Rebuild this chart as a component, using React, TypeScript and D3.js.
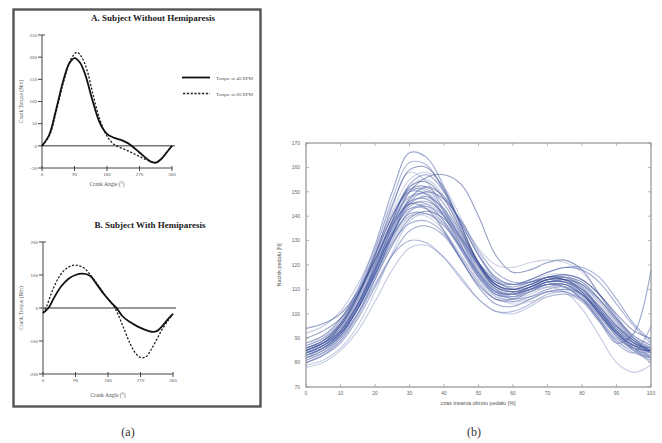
import React from "react";
import * as d3 from "d3";

// ---------- Panel (a) data ----------
const angleTicks = [0, 90, 180, 270, 360];
const aTicks = [-50, 0, 50, 100, 150, 200, 250];
const bTicks = [-200, -100, 0, 100, 200];

const aSolid: [number, number][] = [
  [0, 0], [20, 25], [40, 85], [60, 150], [75, 185], [90, 198], [105, 188], [120, 160],
  [140, 102], [160, 52], [180, 27], [200, 18], [220, 13], [240, 5], [260, -8], [280, -22],
  [300, -35], [315, -38], [330, -30], [345, -15], [360, 0],
];
const aDashed: [number, number][] = [
  [0, 0], [20, 22], [40, 80], [60, 145], [80, 195], [97, 211], [110, 200], [125, 170],
  [140, 120], [160, 60], [180, 22], [200, 3], [220, -5], [240, -12], [260, -20], [280, -28],
  [300, -35], [315, -38], [330, -30], [345, -15], [360, 0],
];
const bSolid: [number, number][] = [
  [0, -15], [15, 0], [30, 30], [50, 65], [70, 88], [90, 100], [110, 104], [130, 98],
  [150, 70], [170, 40], [190, 15], [205, -2], [220, -25], [240, -42], [260, -55], [280, -65],
  [300, -72], [315, -70], [330, -55], [345, -35], [360, -18],
];
const bDashed: [number, number][] = [
  [0, -15], [10, 5], [25, 50], [45, 95], [65, 120], [85, 130], [100, 128], [115, 120],
  [135, 95], [155, 65], [175, 35], [195, 8], [210, -25], [225, -65], [240, -105], [255, -135],
  [270, -150], [285, -148], [300, -125], [315, -95], [330, -65], [345, -40], [360, -18],
];
const legendLabels = ["Torque at 40 RPM", "Torque at 60 RPM"];

// ---------- Panel (b) data ----------
const pctX = [0, 5, 10, 15, 20, 25, 30, 35, 40, 45, 50, 55, 60, 65, 70, 75, 80, 85, 90, 95, 100];
const bXTicks = [0, 10, 20, 30, 40, 50, 60, 70, 80, 90, 100];
const bYTicks = [70, 80, 90, 100, 110, 120, 130, 140, 150, 160, 170];
const forceCurves: number[][] = [
  [88, 91, 98, 110, 128, 150, 166, 164, 152, 136, 120, 110, 108, 110, 112, 111, 106, 98, 90, 86, 85],
  [86, 89, 96, 108, 126, 147, 162, 161, 150, 135, 121, 112, 110, 112, 114, 113, 108, 100, 92, 87, 85],
  [92, 95, 101, 112, 127, 145, 158, 154, 142, 128, 115, 108, 108, 111, 114, 114, 110, 102, 94, 88, 86],
  [84, 87, 93, 103, 118, 136, 150, 156, 157, 153, 140, 124, 117, 118, 121, 122, 118, 108, 98, 90, 86],
  [83, 86, 92, 104, 120, 139, 152, 155, 148, 134, 120, 111, 110, 113, 116, 116, 112, 104, 95, 88, 84],
  [85, 88, 95, 107, 123, 140, 150, 149, 140, 127, 116, 109, 108, 110, 113, 113, 109, 101, 93, 87, 84],
  [82, 85, 91, 102, 116, 132, 145, 148, 143, 132, 120, 112, 110, 112, 115, 115, 111, 102, 93, 86, 82],
  [87, 90, 96, 107, 122, 137, 145, 145, 138, 126, 115, 108, 107, 110, 113, 113, 109, 101, 93, 88, 86],
  [84, 87, 93, 104, 118, 133, 143, 144, 138, 127, 116, 109, 108, 111, 114, 114, 111, 103, 95, 89, 86],
  [81, 84, 90, 100, 114, 128, 139, 142, 139, 130, 119, 111, 109, 111, 114, 115, 113, 106, 97, 89, 84],
  [86, 89, 95, 105, 119, 132, 140, 140, 134, 124, 114, 107, 106, 108, 111, 112, 109, 103, 95, 89, 87],
  [83, 86, 92, 102, 116, 129, 137, 138, 133, 123, 113, 106, 105, 107, 110, 111, 108, 101, 93, 87, 84],
  [80, 83, 88, 98, 111, 124, 134, 136, 132, 122, 111, 104, 103, 106, 109, 110, 108, 101, 92, 85, 81],
  [84, 86, 91, 100, 112, 124, 130, 129, 123, 114, 106, 101, 101, 104, 108, 109, 106, 99, 91, 85, 82],
  [78, 80, 85, 93, 105, 118, 127, 128, 123, 115, 106, 101, 100, 103, 107, 108, 106, 100, 92, 85, 80],
  [94, 96, 100, 109, 122, 136, 145, 143, 134, 122, 112, 106, 106, 109, 112, 112, 108, 100, 92, 87, 86],
  [85, 88, 94, 105, 120, 136, 147, 150, 147, 138, 127, 120, 119, 121, 122, 121, 117, 108, 98, 90, 86],
  [86, 89, 95, 106, 121, 137, 148, 149, 142, 131, 120, 113, 112, 114, 117, 119, 118, 113, 104, 95, 88],
  [84, 87, 93, 104, 119, 135, 146, 147, 140, 128, 116, 109, 108, 110, 112, 111, 106, 97, 88, 92, 118],
  [83, 86, 92, 103, 118, 133, 143, 143, 137, 126, 115, 108, 107, 109, 112, 112, 107, 98, 88, 84, 95],
  [82, 84, 89, 99, 114, 130, 142, 145, 140, 129, 117, 109, 107, 109, 111, 109, 102, 91, 80, 76, 79],
  [86, 89, 96, 108, 124, 140, 151, 152, 145, 133, 121, 113, 111, 113, 115, 114, 109, 100, 91, 86, 85],
  [88, 91, 97, 109, 125, 142, 155, 158, 152, 139, 125, 115, 112, 113, 115, 115, 111, 103, 95, 90, 88],
  [83, 86, 92, 102, 117, 133, 144, 146, 141, 131, 120, 112, 109, 110, 112, 112, 108, 100, 92, 86, 83],
  [85, 88, 94, 104, 118, 132, 141, 141, 136, 127, 117, 110, 108, 110, 113, 114, 112, 106, 98, 91, 87],
  [80, 83, 89, 100, 115, 131, 142, 144, 140, 131, 121, 114, 112, 113, 115, 115, 112, 105, 96, 88, 82],
  [87, 90, 97, 109, 125, 141, 151, 150, 142, 130, 118, 110, 108, 110, 112, 111, 106, 97, 89, 85, 84],
  [85, 88, 95, 107, 124, 144, 159, 160, 151, 136, 121, 111, 109, 111, 114, 114, 110, 102, 94, 88, 85],
  [84, 87, 94, 106, 122, 138, 148, 148, 141, 130, 118, 110, 108, 109, 111, 111, 107, 99, 91, 86, 84],
  [82, 85, 91, 102, 117, 134, 146, 150, 147, 138, 126, 117, 113, 113, 115, 116, 114, 108, 99, 90, 84],
  [84, 87, 92, 102, 116, 132, 147, 152, 148, 137, 124, 114, 110, 111, 113, 113, 110, 103, 95, 89, 85],
  [86, 88, 93, 103, 118, 136, 150, 151, 143, 130, 117, 109, 106, 107, 109, 109, 105, 97, 89, 84, 82],
  [79, 81, 86, 95, 109, 125, 138, 141, 137, 127, 116, 108, 105, 106, 109, 110, 108, 102, 94, 86, 80],
  [90, 93, 98, 108, 122, 138, 152, 154, 147, 134, 121, 112, 110, 112, 115, 116, 114, 108, 100, 93, 90],
  [83, 85, 90, 100, 114, 129, 140, 141, 136, 126, 115, 107, 104, 105, 107, 108, 105, 99, 91, 85, 83],
  [85, 88, 93, 104, 120, 138, 153, 157, 150, 137, 124, 115, 112, 114, 117, 119, 119, 115, 106, 96, 89],
];

const serif = "'Liberation Serif', 'DejaVu Serif', serif";
const sans = "'Liberation Sans', Arial, sans-serif";

function TorquePanel(props: {
  x: d3.ScaleLinear<number, number>;
  y: d3.ScaleLinear<number, number>;
  ticks: number[];
  solid: [number, number][];
  dashed: [number, number][];
  title: string;
  titleX: number;
  titleY: number;
  yLabel: string;
  xLabelY: number;
}) {
  const { x, y, ticks, solid, dashed } = props;
  const [y0, y1] = y.domain();
  const line = d3
    .line<[number, number]>()
    .x((d) => x(d[0]))
    .y((d) => y(d[1]))
    .curve(d3.curveCatmullRom.alpha(0.5));
  const axX = x(0);
  const bottom = y(y0);
  const top = y(y1);
  return (
    <g>
      <text x={props.titleX} y={props.titleY} textAnchor="middle" fontFamily={serif} fontWeight="bold" fontSize={9} fill="#222">
        {props.title}
      </text>
      {/* y axis */}
      <line x1={axX} x2={axX} y1={top} y2={bottom} stroke="#444" strokeWidth={1} />
      {ticks.map((t) => (
        <g key={t}>
          <line x1={axX - 4} x2={axX} y1={y(t)} y2={y(t)} stroke="#444" strokeWidth={1} />
          <text x={axX - 5} y={y(t) + 1.8} textAnchor="end" fontFamily={serif} fontSize={5} fill="#555">
            {t}
          </text>
        </g>
      ))}
      <line x1={axX} x2={axX + 3} y1={top} y2={top} stroke="#444" strokeWidth={1} />
      {/* x axis */}
      <line x1={axX} x2={x(360)} y1={bottom} y2={bottom} stroke="#444" strokeWidth={1} />
      {angleTicks.map((t) => (
        <g key={t}>
          <line x1={x(t)} x2={x(t)} y1={bottom - 2} y2={bottom + 3} stroke="#444" strokeWidth={1} />
          <text x={x(t)} y={bottom + 8} textAnchor="middle" fontFamily={serif} fontSize={5} fill="#555">
            {t}
          </text>
        </g>
      ))}
      <text x={x(180)} y={props.xLabelY} textAnchor="middle" fontFamily={serif} fontSize={5.5} fill="#555">
        Crank Angle (°)
      </text>
      <text
        transform={`translate(23,${(top + bottom) / 2}) rotate(-90)`}
        textAnchor="middle"
        fontFamily={serif}
        fontSize={5.5}
        fill="#555"
      >
        {props.yLabel}
      </text>
      {/* zero line */}
      <line x1={axX} x2={x(360) + 3} y1={y(0)} y2={y(0)} stroke="#333" strokeWidth={1} />
      <path d={line(dashed) || ""} fill="none" stroke="#222" strokeWidth={1.3} strokeDasharray="2.2,1.6" />
      <path d={line(solid) || ""} fill="none" stroke="#111" strokeWidth={1.8} />
    </g>
  );
}

export default function App() {
  // panel (a) scales
  const xA = d3.scaleLinear().domain([0, 360]).range([42, 172]);
  const yA = d3.scaleLinear().domain([-50, 250]).range([168, 35]);
  const xB = d3.scaleLinear().domain([0, 360]).range([43, 173]);
  const yB = d3.scaleLinear().domain([-200, 200]).range([374, 242]);

  // panel (b) scales
  const xF = d3.scaleLinear().domain([0, 100]).range([306, 651]);
  const yF = d3.scaleLinear().domain([70, 170]).range([387, 143]);
  const fLine = d3
    .line<number>()
    .x((_, i) => xF(pctX[i]))
    .y((d) => yF(d))
    .curve(d3.curveCatmullRom.alpha(0.5));
  const colors = ["#3a4f9e", "#6475b8", "#8a97c8", "#2e3f8a", "#a0a8cc", "#4d62ad"];

  return (
    <svg width={662} height={443} style={{ position: "absolute", left: 0, top: 0, background: "#fff" }}>
      <rect x={0} y={0} width={662} height={443} fill="#fff" />
      {/* panel (a) frame */}
      <rect x={13.5} y={9.5} width={247} height={397} fill="none" stroke="#555" strokeWidth={2.4} />

      <TorquePanel
        x={xA}
        y={yA}
        ticks={aTicks}
        solid={aSolid}
        dashed={aDashed}
        title="A. Subject Without Hemiparesis"
        titleX={153}
        titleY={21}
        yLabel="Crank Torque (Nm)"
        xLabelY={186}
      />
      <TorquePanel
        x={xB}
        y={yB}
        ticks={bTicks}
        solid={bSolid}
        dashed={bDashed}
        title="B. Subject With Hemiparesis"
        titleX={150}
        titleY={228}
        yLabel="Crank Torque (Nm)"
        xLabelY={397}
      />
      {/* legend */}
      <line x1={182} x2={210} y1={77.5} y2={77.5} stroke="#111" strokeWidth={1.8} />
      <line x1={183} x2={210} y1={93.5} y2={93.5} stroke="#222" strokeWidth={1.3} strokeDasharray="2.2,1.6" />
      <text x={216} y={79.5} fontFamily={serif} fontSize={5} fill="#555">{legendLabels[0]}</text>
      <text x={216} y={95.5} fontFamily={serif} fontSize={5} fill="#555">{legendLabels[1]}</text>

      {/* panel (b) */}
      <g>
        <rect x={306} y={143} width={345} height={244} fill="#fff" stroke="#999" strokeWidth={0.8} />
        {forceCurves.map((c, i) => (
          <path
            key={i}
            d={fLine(c) || ""}
            fill="none"
            stroke={colors[i % colors.length]}
            strokeWidth={1.1}
            strokeOpacity={0.5}
          />
        ))}
        {bXTicks.map((t) => (
          <g key={t}>
            <line x1={xF(t)} x2={xF(t)} y1={387} y2={384} stroke="#888" strokeWidth={0.6} />
            <line x1={xF(t)} x2={xF(t)} y1={143} y2={146} stroke="#888" strokeWidth={0.6} />
            <text x={xF(t)} y={395} textAnchor="middle" fontFamily={sans} fontSize={5} fill="#666">
              {t}
            </text>
          </g>
        ))}
        {bYTicks.map((t) => (
          <g key={t}>
            <line x1={306} x2={309} y1={yF(t)} y2={yF(t)} stroke="#888" strokeWidth={0.6} />
            <line x1={651} x2={648} y1={yF(t)} y2={yF(t)} stroke="#888" strokeWidth={0.6} />
            <text x={300} y={yF(t) + 1.8} textAnchor="end" fontFamily={sans} fontSize={5} fill="#666">
              {t}
            </text>
          </g>
        ))}
        <rect x={306} y={143} width={345} height={244} fill="none" stroke="#999" strokeWidth={0.8} />
        <text x={478} y={405} textAnchor="middle" fontFamily={sans} fontSize={5.5} fill="#555">
          czas trwania obrotu pedału [%]
        </text>
        <text transform="translate(281,265) rotate(-90)" textAnchor="middle" fontFamily={sans} fontSize={5.5} fill="#555">
          Nacisk pedału [N]
        </text>
      </g>

      <text x={128} y={436} textAnchor="middle" fontFamily={serif} fontSize={12} fill="#333">(a)</text>
      <text x={474} y={436} textAnchor="middle" fontFamily={serif} fontSize={12} fill="#333">(b)</text>
    </svg>
  );
}
